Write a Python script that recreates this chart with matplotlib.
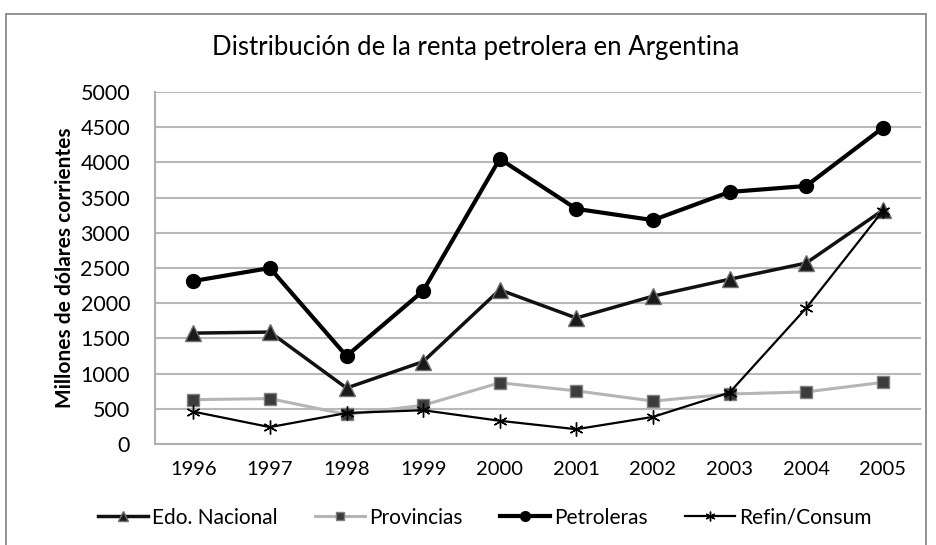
import matplotlib
matplotlib.use("Agg")
import matplotlib.pyplot as plt
import matplotlib.patches as mpatches

plt.rcParams['font.family'] = ['Lato', 'DejaVu Sans']

# Data
years = ['1996', '1997', '1998', '1999', '2000', '2001', '2002', '2003', '2004', '2005']
edo_nacional = [1575, 1590, 795, 1170, 2190, 1790, 2100, 2340, 2570, 3320]
provincias = [630, 645, 420, 550, 870, 755, 610, 710, 740, 875]
petroleras = [2315, 2500, 1250, 2175, 4050, 3340, 3180, 3580, 3665, 4490]
refin_consum = [460, 240, 440, 480, 330, 210, 385, 730, 1930, 3310]
y_ticks = [0, 500, 1000, 1500, 2000, 2500, 3000, 3500, 4000, 4500, 5000]

fig = plt.figure(figsize=(9.36, 5.45), dpi=100)
ax = fig.add_axes([0.1656, 0.1853, 0.8184, 0.6459])

# outer chart border
fig.patches.append(mpatches.Rectangle((0.006, -0.01), 0.983, 0.985, transform=fig.transFigure,
                                      fill=False, edgecolor='#808080', linewidth=1.2))

x = range(len(years))
ax.plot(x, edo_nacional, color='#111111', linewidth=2.5, marker='^', markersize=11,
        markerfacecolor='#1a1a1a', markeredgecolor='#707070', markeredgewidth=1, label='Edo. Nacional', zorder=4)
ax.plot(x, provincias, color='#b5b5b5', linewidth=2.2, marker='s', markersize=8,
        markerfacecolor='#3c3c3c', markeredgecolor='#808080', markeredgewidth=1, label='Provincias', zorder=3)
ax.plot(x, petroleras, color='#000000', linewidth=3, marker='o', markersize=10,
        markerfacecolor='#000000', markeredgecolor='#000000', label='Petroleras', zorder=5)
ax.plot(x, refin_consum, color='#000000', linewidth=1.6, marker=(6, 2, 0), markersize=10,
        markeredgecolor='#000000', markeredgewidth=1.0, label='Refin/Consum', zorder=4)

ax.set_xlim(-0.5, len(years) - 0.5)
ax.set_ylim(0, 5000)
ax.set_xticks(list(x))
ax.set_xticklabels(years)
ax.set_yticks(y_ticks)
ax.yaxis.grid(True, color='#b8b8b8', linewidth=1.5)
ax.set_axisbelow(True)
ax.tick_params(axis='y', labelsize=15.5, length=0, pad=18, colors='#000000')
ax.tick_params(axis='x', labelsize=14.5, length=0, pad=12, colors='#000000')
for side in ['top', 'right']:
    ax.spines[side].set_visible(False)
for side in ['left', 'bottom']:
    ax.spines[side].set_color('#b0b0b0')
    ax.spines[side].set_linewidth(1.5)

ax.set_ylabel('Millones de dólares corrientes', fontsize=15, fontweight='bold', labelpad=4)
fig.text(0.508, 0.913, 'Distribución de la renta petrolera en Argentina', ha='center', va='center', fontsize=18.5)

fig.legend(loc='center', bbox_to_anchor=(0.518, 0.05), ncol=4, frameon=False, fontsize=15,
           handlelength=2.4, columnspacing=1.8, handletextpad=0.2, markerscale=0.7)

fig.savefig('out.png', dpi=100)
